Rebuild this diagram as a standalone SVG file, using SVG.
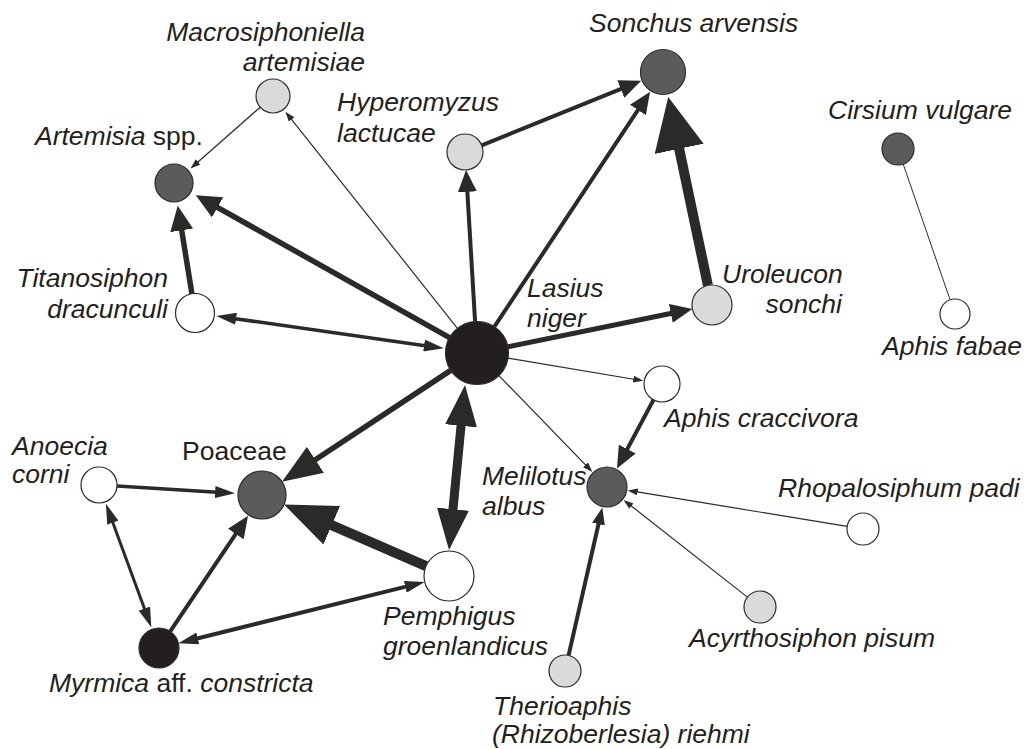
<svg xmlns="http://www.w3.org/2000/svg" width="1029" height="749" viewBox="0 0 1029 749">
<style>
.e{stroke:#2b2a29;fill:none}
.n{stroke:#2b2a29;stroke-width:1.2}
.blk{fill:#231f20}
.dk{fill:#5b5b5b}
.lt{fill:#d9dbda}
.wh{fill:#ffffff}
text{font-family:"Liberation Sans",Arial,Helvetica,sans-serif;font-size:26.5px;fill:#231f20}
.i{font-style:italic}
</style>
<defs>
<marker id="s" markerUnits="userSpaceOnUse" markerWidth="10" markerHeight="7" refX="5" refY="3.5" orient="auto-start-reverse"><path d="M0,0 L10,3.5 L0,7 Z" fill="#2b2a29"/></marker>
<marker id="m" markerUnits="userSpaceOnUse" markerWidth="20" markerHeight="12" refX="10" refY="6" orient="auto-start-reverse"><path d="M0,0 L20,6 L0,12 Z" fill="#2b2a29"/></marker>
<marker id="m2" markerUnits="userSpaceOnUse" markerWidth="22" markerHeight="19" refX="11" refY="9.5" orient="auto-start-reverse"><path d="M0,0 L22,9.5 L0,19 Z" fill="#2b2a29"/></marker>
<marker id="m3" markerUnits="userSpaceOnUse" markerWidth="17" markerHeight="13" refX="8.5" refY="6.5" orient="auto-start-reverse"><path d="M0,0 L17,6.5 L0,13 Z" fill="#2b2a29"/></marker>
<marker id="l" markerUnits="userSpaceOnUse" markerWidth="25" markerHeight="23" refX="12.5" refY="11.5" orient="auto-start-reverse"><path d="M0,0 L25,11.5 L0,23 Z" fill="#2b2a29"/></marker>
<marker id="xl" markerUnits="userSpaceOnUse" markerWidth="40" markerHeight="31" refX="20" refY="15.5" orient="auto-start-reverse"><path d="M0,0 L40,15.5 L0,31 Z" fill="#2b2a29"/></marker>
<marker id="xl2" markerUnits="userSpaceOnUse" markerWidth="41" markerHeight="32" refX="20.5" refY="16" orient="auto-start-reverse"><path d="M0,0 L41,16 L0,32 Z" fill="#2b2a29"/></marker>
<marker id="hg" markerUnits="userSpaceOnUse" markerWidth="53" markerHeight="50" refX="26.5" refY="25" orient="auto-start-reverse"><path d="M0,0 L53,25 L0,50 Z" fill="#2b2a29"/></marker>
<marker id="hg2" markerUnits="userSpaceOnUse" markerWidth="52" markerHeight="42" refX="26" refY="21" orient="auto-start-reverse"><path d="M0,0 L52,21 L0,42 Z" fill="#2b2a29"/></marker>
</defs>
<g id="connectors">
<line class="e" stroke-width="1.2" x1="260.2" y1="107.2" x2="194.3" y2="165.2" marker-end="url(#s)"/>
<line class="e" stroke-width="1.2" x1="457.4" y1="328.3" x2="288.5" y2="115.6" marker-end="url(#s)"/>
<line class="e" stroke-width="5.5" x1="449.5" y1="337.6" x2="206.7" y2="201.3" marker-end="url(#l)"/>
<line class="e" stroke-width="5.5" x1="191.9" y1="293.7" x2="179.7" y2="218.0" marker-end="url(#l)"/>
<line class="e" stroke-width="3.5" x1="226.2" y1="317.4" x2="433.9" y2="346.9" marker-start="url(#m)" marker-end="url(#m)"/>
<line class="e" stroke-width="4" x1="475.1" y1="321.6" x2="466.7" y2="180.9" marker-end="url(#m2)"/>
<line class="e" stroke-width="4" x1="481.7" y1="145.3" x2="631.0" y2="84.9" marker-end="url(#m2)"/>
<line class="e" stroke-width="4" x1="494.4" y1="326.7" x2="644.0" y2="100.8" marker-end="url(#m2)"/>
<line class="e" stroke-width="10" x1="707.9" y1="285.4" x2="673.7" y2="122.9" marker-end="url(#hg)"/>
<line class="e" stroke-width="5" x1="507.9" y1="346.7" x2="681.6" y2="311.2" marker-end="url(#m2)"/>
<line class="e" stroke-width="1" x1="903.2" y1="164.1" x2="950.1" y2="299.8"/>
<line class="e" stroke-width="1.2" x1="508.1" y1="358.2" x2="638.3" y2="380.0" marker-end="url(#s)"/>
<line class="e" stroke-width="1.2" x1="498.9" y1="375.6" x2="588.9" y2="468.3" marker-end="url(#s)"/>
<line class="e" stroke-width="4" x1="653.5" y1="399.9" x2="622.1" y2="458.8" marker-end="url(#m2)"/>
<line class="e" stroke-width="1.2" x1="847.2" y1="526.4" x2="632.7" y2="491.2" marker-end="url(#s)"/>
<line class="e" stroke-width="1.2" x1="747.4" y1="597.1" x2="627.5" y2="503.0" marker-end="url(#s)"/>
<line class="e" stroke-width="4" x1="568.6" y1="655.4" x2="600.4" y2="515.8" marker-end="url(#m3)"/>
<line class="e" stroke-width="5.5" x1="450.7" y1="370.4" x2="298.7" y2="470.8" marker-end="url(#xl)"/>
<line class="e" stroke-width="9" x1="463.0" y1="405.4" x2="451.0" y2="529.6" marker-start="url(#xl2)" marker-end="url(#xl2)"/>
<line class="e" stroke-width="10" x1="426.1" y1="566.1" x2="307.9" y2="514.9" marker-end="url(#hg2)"/>
<line class="e" stroke-width="3.5" x1="117.0" y1="486.1" x2="225.1" y2="492.7" marker-end="url(#m)"/>
<line class="e" stroke-width="3" x1="109.4" y1="513.2" x2="147.9" y2="618.0" marker-start="url(#m)" marker-end="url(#m)"/>
<line class="e" stroke-width="4" x1="170.2" y1="631.4" x2="241.9" y2="524.9" marker-end="url(#m2)"/>
<line class="e" stroke-width="4" x1="188.1" y1="640.8" x2="415.0" y2="584.4" marker-start="url(#m)" marker-end="url(#m)"/>
</g>
<g id="lasius-niger"><circle class="n blk" cx="477" cy="353" r="31.5"/><text class="i" x="527" y="297">Lasius</text><text class="i" x="527" y="327">niger</text></g>
<g id="sonchus-arvensis"><circle class="n dk" cx="663" cy="72" r="22.5"/><text class="i" x="589" y="32">Sonchus arvensis</text></g>
<g id="macrosiphoniella-artemisiae"><circle class="n lt" cx="273" cy="96" r="17"/><text class="i" x="365" y="41" text-anchor="end">Macrosiphoniella</text><text class="i" x="365" y="71" text-anchor="end">artemisiae</text></g>
<g id="hyperomyzus-lactucae"><circle class="n lt" cx="465" cy="152" r="18"/><text class="i" x="337" y="111">Hyperomyzus</text><text class="i" x="337" y="142">lactucae</text></g>
<g id="artemisia"><circle class="n dk" cx="174" cy="183" r="19"/><text x="35" y="145"><tspan class="i">Artemisia</tspan> spp.</text></g>
<g id="cirsium-vulgare"><circle class="n dk" cx="898" cy="149" r="16"/><text class="i" x="828" y="119">Cirsium vulgare</text></g>
<g id="titanosiphon-dracunculi"><circle class="n wh" cx="195" cy="313" r="19.5"/><text class="i" x="168" y="287" text-anchor="end">Titanosiphon</text><text class="i" x="168" y="318" text-anchor="end">dracunculi</text></g>
<g id="uroleucon-sonchi"><circle class="n lt" cx="712" cy="305" r="20"/><text class="i" x="722" y="283">Uroleucon</text><text class="i" x="842" y="313" text-anchor="end">sonchi</text></g>
<g id="aphis-fabae"><circle class="n wh" cx="955" cy="314" r="15"/><text class="i" x="882" y="355">Aphis fabae</text></g>
<g id="aphis-craccivora"><circle class="n wh" cx="662" cy="384" r="18"/><text class="i" x="664" y="427">Aphis craccivora</text></g>
<g id="anoecia-corni"><circle class="n wh" cx="99" cy="485" r="18"/><text class="i" x="12" y="455">Anoecia</text><text class="i" x="12" y="483">corni</text></g>
<g id="poaceae"><circle class="n dk" cx="262" cy="495" r="24"/><text x="182" y="460">Poaceae</text></g>
<g id="melilotus-albus"><circle class="n dk" cx="607" cy="487" r="20"/><text class="i" x="482" y="485">Melilotus</text><text class="i" x="482" y="515">albus</text></g>
<g id="rhopalosiphum-padi"><circle class="n wh" cx="863" cy="529" r="16"/><text class="i" x="778" y="497">Rhopalosiphum padi</text></g>
<g id="pemphigus-groenlandicus"><circle class="n wh" cx="449" cy="576" r="25"/><text class="i" x="383" y="625">Pemphigus</text><text class="i" x="383" y="655">groenlandicus</text></g>
<g id="acyrthosiphon-pisum"><circle class="n lt" cx="760" cy="607" r="16"/><text class="i" x="689" y="647">Acyrthosiphon pisum</text></g>
<g id="myrmica"><circle class="n blk" cx="159" cy="648" r="20"/><text x="49" y="692"><tspan class="i">Myrmica</tspan> aff. <tspan class="i">constricta</tspan></text></g>
<g id="therioaphis-riehmi"><circle class="n lt" cx="565" cy="671" r="16"/><text class="i" x="493" y="715">Therioaphis</text><text class="i" x="492" y="743">(Rhizoberlesia) riehmi</text></g>
</svg>
